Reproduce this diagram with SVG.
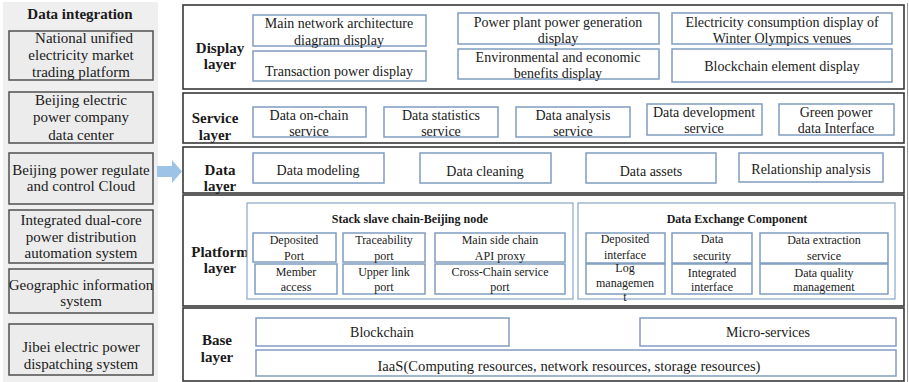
<svg xmlns="http://www.w3.org/2000/svg" width="909" height="382" viewBox="0 0 909 382" font-family="'Liberation Serif', 'DejaVu Serif', serif">
  <style>
    text { font-family: 'Liberation Serif', 'DejaVu Serif', serif; fill: #1a1a1a; text-anchor: middle; }
    .src { fill: #ececec; stroke: #505050; stroke-width: 1.5; }
    .srct { font-size: 15px; }
    .frame { fill: #ffffff; stroke: #383838; stroke-width: 1.6; }
    .lbl { font-size: 15px; font-weight: bold; }
    .box { fill: #ffffff; stroke: #7f9cc0; stroke-width: 1.5; }
    .grp { fill: #ffffff; stroke: #8aa6c8; stroke-width: 1.2; }
    .t14 { font-size: 14px; }
    .t12 { font-size: 12px; }
    .b12 { font-size: 12px; font-weight: bold; }
  </style>

  <!-- data integration panel -->
  <rect x="3" y="2" width="155" height="380" fill="#efefef"/>
  <text class="lbl" x="80" y="19">Data integration</text>

  <g id="src-market">
    <rect class="src" x="9" y="31" width="144" height="49"/>
    <text class="srct" x="84" y="43">National unified</text>
    <text class="srct" x="81" y="60">electricity market</text>
    <text class="srct" x="81" y="77">trading platform</text>
  </g>
  <g id="src-datacenter">
    <rect class="src" x="9" y="92" width="144" height="51"/>
    <text class="srct" x="81" y="105">Beijing electric</text>
    <text class="srct" x="81" y="122">power company</text>
    <text class="srct" x="81" y="140">data center</text>
  </g>
  <g id="src-cloud">
    <rect class="src" x="9" y="153" width="144" height="51"/>
    <text class="srct" x="81" y="175">Beijing power regulate</text>
    <text class="srct" x="81" y="191">and control Cloud</text>
  </g>
  <g id="src-automation">
    <rect class="src" x="9" y="210" width="144" height="53"/>
    <text class="srct" x="81" y="225">Integrated dual-core</text>
    <text class="srct" x="81" y="242">power distribution</text>
    <text class="srct" x="81" y="258">automation system</text>
  </g>
  <g id="src-gis">
    <rect class="src" x="9" y="269" width="144" height="44"/>
    <text class="srct" x="81" y="290">Geographic information</text>
    <text class="srct" x="81" y="306">system</text>
  </g>
  <g id="src-dispatch">
    <rect class="src" x="9" y="324" width="144" height="51"/>
    <text class="srct" x="81" y="352">Jibei electric power</text>
    <text class="srct" x="81" y="369">dispatching system</text>
  </g>

  <!-- connector: data flow into the layer stack -->
  <g id="connectors">
    <polygon points="157,166 172,166 172,160 182,171.5 172,183 172,177 157,177" fill="#9dc3e6"/>
  </g>

  <!-- right edge rule -->
  <line x1="907.5" y1="3" x2="907.5" y2="382" stroke="#9a9a9a" stroke-width="1"/>

  <!-- display layer -->
  <g id="display-layer">
    <rect class="frame" x="183" y="5" width="721" height="84"/>
    <text class="lbl" x="220" y="53">Display</text>
    <text class="lbl" x="220" y="69">layer</text>
    <rect class="box" x="253" y="15" width="173" height="31"/>
    <text class="t14" x="339" y="28">Main network architecture</text>
    <text class="t14" x="339" y="45">diagram display</text>
    <rect class="box" x="253" y="51" width="173" height="30"/>
    <text class="t14" x="339" y="76">Transaction power display</text>
    <rect class="box" x="458" y="13" width="201" height="31"/>
    <text class="t14" x="558" y="27">Power plant power generation</text>
    <text class="t14" x="558" y="43">display</text>
    <rect class="box" x="458" y="49" width="201" height="30"/>
    <text class="t14" x="558" y="62">Environmental and economic</text>
    <text class="t14" x="558" y="78">benefits display</text>
    <rect class="box" x="672" y="13" width="220" height="31"/>
    <text class="t14" x="782" y="27">Electricity consumption display of</text>
    <text class="t14" x="782" y="43">Winter Olympics venues</text>
    <rect class="box" x="672" y="49" width="220" height="33"/>
    <text class="t14" x="782" y="71">Blockchain element display</text>
  </g>

  <!-- service layer -->
  <g id="service-layer">
    <rect class="frame" x="183" y="93" width="721" height="50"/>
    <text class="lbl" x="215" y="123">Service</text>
    <text class="lbl" x="215" y="140">layer</text>
    <rect class="box" x="253" y="107" width="113" height="30"/>
    <text class="t14" x="309" y="120">Data on-chain</text>
    <text class="t14" x="309" y="136">service</text>
    <rect class="box" x="384" y="107" width="114" height="30"/>
    <text class="t14" x="441" y="120">Data statistics</text>
    <text class="t14" x="441" y="136">service</text>
    <rect class="box" x="516" y="107" width="114" height="30"/>
    <text class="t14" x="573" y="120">Data analysis</text>
    <text class="t14" x="573" y="136">service</text>
    <rect class="box" x="647" y="104" width="115" height="31"/>
    <text class="t14" x="704" y="117">Data development</text>
    <text class="t14" x="704" y="133">service</text>
    <rect class="box" x="779" y="104" width="115" height="31"/>
    <text class="t14" x="836" y="117">Green power</text>
    <text class="t14" x="836" y="133">data Interface</text>
  </g>

  <!-- data layer -->
  <g id="data-layer">
    <rect class="frame" x="183" y="147" width="721" height="46"/>
    <text class="lbl" x="220" y="175">Data</text>
    <text class="lbl" x="220" y="191">layer</text>
    <rect class="box" x="253" y="153" width="131" height="30"/>
    <text class="t14" x="318" y="175">Data modeling</text>
    <rect class="box" x="420" y="153" width="131" height="30"/>
    <text class="t14" x="485" y="176">Data cleaning</text>
    <rect class="box" x="586" y="153" width="130" height="30"/>
    <text class="t14" x="651" y="176">Data assets</text>
    <rect class="box" x="739" y="153" width="144" height="29"/>
    <text class="t14" x="811" y="174">Relationship analysis</text>
  </g>

  <!-- platform layer -->
  <g id="platform-layer">
    <rect class="frame" x="183" y="195" width="721" height="111"/>
    <text class="lbl" x="220" y="257">Platform</text>
    <text class="lbl" x="220" y="273">layer</text>

    <rect class="grp" x="247" y="203" width="326" height="96"/>
    <text class="b12" x="410" y="223">Stack slave chain-Beijing node</text>
    <rect class="box" x="253" y="233" width="83" height="29"/>
    <text class="t12" x="294" y="244">Deposited</text>
    <text class="t12" x="294" y="260">Port</text>
    <rect class="box" x="343" y="233" width="82" height="29"/>
    <text class="t12" x="384" y="244">Traceability</text>
    <text class="t12" x="384" y="260">port</text>
    <rect class="box" x="435" y="233" width="130" height="29"/>
    <text class="t12" x="500" y="244">Main side chain</text>
    <text class="t12" x="500" y="260">API proxy</text>
    <rect class="box" x="255" y="264" width="82" height="30"/>
    <text class="t12" x="296" y="276">Member</text>
    <text class="t12" x="296" y="291">access</text>
    <rect class="box" x="343" y="264" width="82" height="30"/>
    <text class="t12" x="384" y="276">Upper link</text>
    <text class="t12" x="384" y="291">port</text>
    <rect class="box" x="435" y="264" width="130" height="30"/>
    <text class="t12" x="500" y="276">Cross-Chain service</text>
    <text class="t12" x="500" y="291">port</text>

    <rect class="grp" x="578" y="203" width="317" height="96"/>
    <text class="b12" x="737" y="223">Data Exchange Component</text>
    <rect class="box" x="586" y="233" width="79" height="30"/>
    <text class="t12" x="625" y="243">Deposited</text>
    <text class="t12" x="625" y="259">interface</text>
    <rect class="box" x="672" y="233" width="80" height="30"/>
    <text class="t12" x="712" y="243">Data</text>
    <text class="t12" x="712" y="260">security</text>
    <rect class="box" x="760" y="233" width="128" height="30"/>
    <text class="t12" x="824" y="244">Data extraction</text>
    <text class="t12" x="824" y="260">service</text>
    <rect class="box" x="586" y="264" width="79" height="30"/>
    <text class="t12" x="625" y="272">Log</text>
    <text class="t12" x="625" y="287">managemen</text>
    <text class="t12" x="625" y="301">t</text>
    <rect class="box" x="672" y="264" width="80" height="30"/>
    <text class="t12" x="712" y="277">Integrated</text>
    <text class="t12" x="712" y="291">interface</text>
    <rect class="box" x="760" y="264" width="128" height="30"/>
    <text class="t12" x="824" y="277">Data quality</text>
    <text class="t12" x="824" y="291">management</text>
  </g>

  <!-- base layer -->
  <g id="base-layer">
    <rect class="frame" x="183" y="308" width="721" height="73"/>
    <text class="lbl" x="217" y="345">Base</text>
    <text class="lbl" x="217" y="362">layer</text>
    <rect class="box" x="256" y="318" width="253" height="28"/>
    <text class="t14" x="382" y="337">Blockchain</text>
    <rect class="box" x="640" y="318" width="256" height="28"/>
    <text class="t14" x="768" y="337">Micro-services</text>
    <rect class="box" x="256" y="350" width="640" height="26"/>
    <text class="t14" x="569" y="371" textLength="383" lengthAdjust="spacingAndGlyphs">IaaS(Computing resources, network resources, storage resources)</text>
  </g>
</svg>
